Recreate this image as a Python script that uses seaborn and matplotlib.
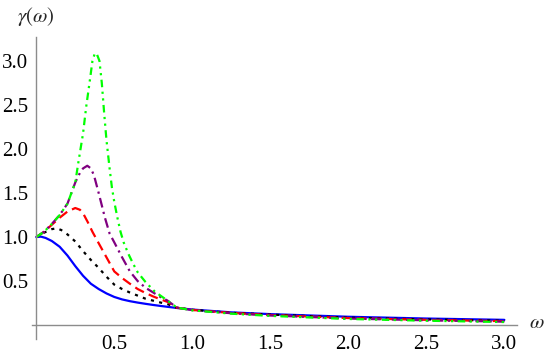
import matplotlib
matplotlib.use("Agg")
import matplotlib.pyplot as plt
import matplotlib.ticker as mticker
import seaborn as sns
import pandas as pd

# curve values
w_blue = [0, 0.03, 0.06, 0.1, 0.15, 0.2, 0.25, 0.3, 0.35, 0.4, 0.45, 0.5, 0.55, 0.6, 0.65,
          0.7, 0.75, 0.8, 0.9, 1.0, 1.25, 1.5, 1.75, 2.0, 2.5, 3.0]
g_blue = [1.0, 1.005, 0.99, 0.955, 0.89, 0.79, 0.67, 0.56, 0.47, 0.41, 0.36, 0.32, 0.292,
          0.272, 0.256, 0.242, 0.229, 0.217, 0.195, 0.177, 0.145, 0.125, 0.11, 0.095,
          0.075, 0.06]

w_black = [0, 0.05, 0.1, 0.13, 0.16, 0.2, 0.25, 0.3, 0.35, 0.4, 0.45, 0.5, 0.55, 0.6, 0.7,
           0.8, 0.84, 0.9, 1.0, 1.25, 1.5, 2.0, 2.5, 3.0]
g_black = [1.0, 1.05, 1.09, 1.10, 1.08, 1.03, 0.95, 0.84, 0.74, 0.65, 0.55, 0.46, 0.41, 0.37,
           0.30, 0.255, 0.24, 0.197, 0.174, 0.14, 0.12, 0.085, 0.065, 0.05]

w_red = [0, 0.05, 0.1, 0.15, 0.2, 0.25, 0.28, 0.3, 0.33, 0.36, 0.4, 0.45, 0.5, 0.55, 0.6,
         0.65, 0.7, 0.75, 0.8, 0.84, 0.9, 1.0, 1.25, 1.5, 2.0, 2.5, 3.0]
g_red = [1.0, 1.06, 1.14, 1.22, 1.29, 1.33, 1.31, 1.27, 1.17, 1.06, 0.93, 0.77, 0.61, 0.535,
         0.47, 0.41, 0.365, 0.325, 0.29, 0.265, 0.198, 0.172, 0.138, 0.115, 0.08, 0.06, 0.045]

w_purple = [0, 0.05, 0.1, 0.15, 0.2, 0.25, 0.28, 0.3, 0.327, 0.35, 0.37, 0.4, 0.42, 0.44,
            0.47, 0.5, 0.55, 0.6, 0.65, 0.7, 0.75, 0.8, 0.84, 0.9, 1.0, 1.25, 1.5, 2.0,
            2.5, 3.0]
g_purple = [1.0, 1.06, 1.15, 1.25, 1.38, 1.62, 1.73, 1.78, 1.81, 1.78, 1.70, 1.50, 1.36,
            1.22, 1.04, 0.94, 0.77, 0.61, 0.50, 0.425, 0.37, 0.315, 0.28, 0.2, 0.17, 0.135,
            0.11, 0.075, 0.055, 0.04]

w_green = [0, 0.05, 0.1, 0.15, 0.2, 0.25, 0.27, 0.3, 0.32, 0.345, 0.36, 0.376, 0.39, 0.405,
           0.42, 0.435, 0.45, 0.47, 0.485, 0.5, 0.52, 0.54, 0.56, 0.59, 0.62, 0.65, 0.7,
           0.73, 0.76, 0.8, 0.84, 0.9, 1.0, 1.25, 1.5, 2.0, 2.5, 3.0]
g_green = [1.0, 1.06, 1.15, 1.25, 1.38, 1.62, 1.85, 2.18, 2.48, 2.80, 3.0, 3.09, 3.07, 3.0,
           2.75, 2.41, 2.10, 1.78, 1.56, 1.40, 1.22, 1.06, 0.94, 0.81, 0.70, 0.60, 0.49,
           0.435, 0.38, 0.33, 0.28, 0.2, 0.168, 0.13, 0.105, 0.07, 0.05, 0.035]

curves = ["blue", "black", "red", "purple", "green"]
omegas = [w_blue, w_black, w_red, w_purple, w_green]
gammas = [g_blue, g_black, g_red, g_purple, g_green]

frames = []
for name, w, g in zip(curves, omegas, gammas):
    frames.append(pd.DataFrame({"omega": w, "gamma": g, "curve": name}))
df = pd.concat(frames, ignore_index=True)

palette = {"blue": "#0000ff", "black": "#000000", "red": "#ff0000",
           "purple": "#800080", "green": "#00ff00"}
dashes = {"blue": "", "black": (1.4, 2.4), "red": (4.4, 2.4),
          "purple": (4.4, 2, 1, 2), "green": (3.4, 2, 1, 2, 1, 2)}

sns.set_style("white")
plt.rcParams["font.family"] = ["Liberation Serif", "DejaVu Serif"]
plt.rcParams["mathtext.fontset"] = "stix"

fig = plt.figure(figsize=(5.5, 3.54), dpi=100)
ax = fig.add_axes([0.058, 0.042, 0.882, 0.853])

sns.lineplot(data=df, x="omega", y="gamma", hue="curve", style="curve",
             hue_order=curves, style_order=curves, palette=palette, dashes=dashes,
             estimator=None, errorbar=None, legend=False, linewidth=1.6, ax=ax)

ax.set_xlim(-0.028, 3.081)
ax.set_ylim(-0.159, 3.27)

for side in ["top", "right"]:
    ax.spines[side].set_visible(False)
ax.spines["left"].set_position(("data", 0))
ax.spines["bottom"].set_position(("data", 0))
for side in ["left", "bottom"]:
    ax.spines[side].set_color("#8c8c8c")
    ax.spines[side].set_linewidth(1.0)

ticks = [0.5, 1.0, 1.5, 2.0, 2.5, 3.0]
ax.xaxis.set_major_locator(mticker.FixedLocator(ticks))
ax.yaxis.set_major_locator(mticker.FixedLocator(ticks))
ax.xaxis.set_minor_locator(mticker.MultipleLocator(0.1))
ax.yaxis.set_minor_locator(mticker.MultipleLocator(0.1))
ax.xaxis.set_major_formatter(mticker.FormatStrFormatter("%.1f"))
ax.yaxis.set_major_formatter(mticker.FormatStrFormatter("%.1f"))
ax.tick_params(which="both", direction="in", color="#8c8c8c", width=0.8,
               labelsize=15, labelcolor="black")
ax.tick_params(which="major", length=4.5)
ax.tick_params(which="minor", length=2.3)
ax.tick_params(axis="x", which="major", pad=7)
ax.tick_params(axis="y", which="major", pad=6)
ax.set_xlabel("")
ax.set_ylabel("")

fig.text(36 / 550, 1 - 16 / 354, r"$\gamma(\omega)$", fontsize=15,
         ha="center", va="center")
fig.text(537 / 550, 1 - 323 / 354, r"$\omega$", fontsize=15,
         ha="center", va="center")

fig.savefig("out.png", dpi=100)
